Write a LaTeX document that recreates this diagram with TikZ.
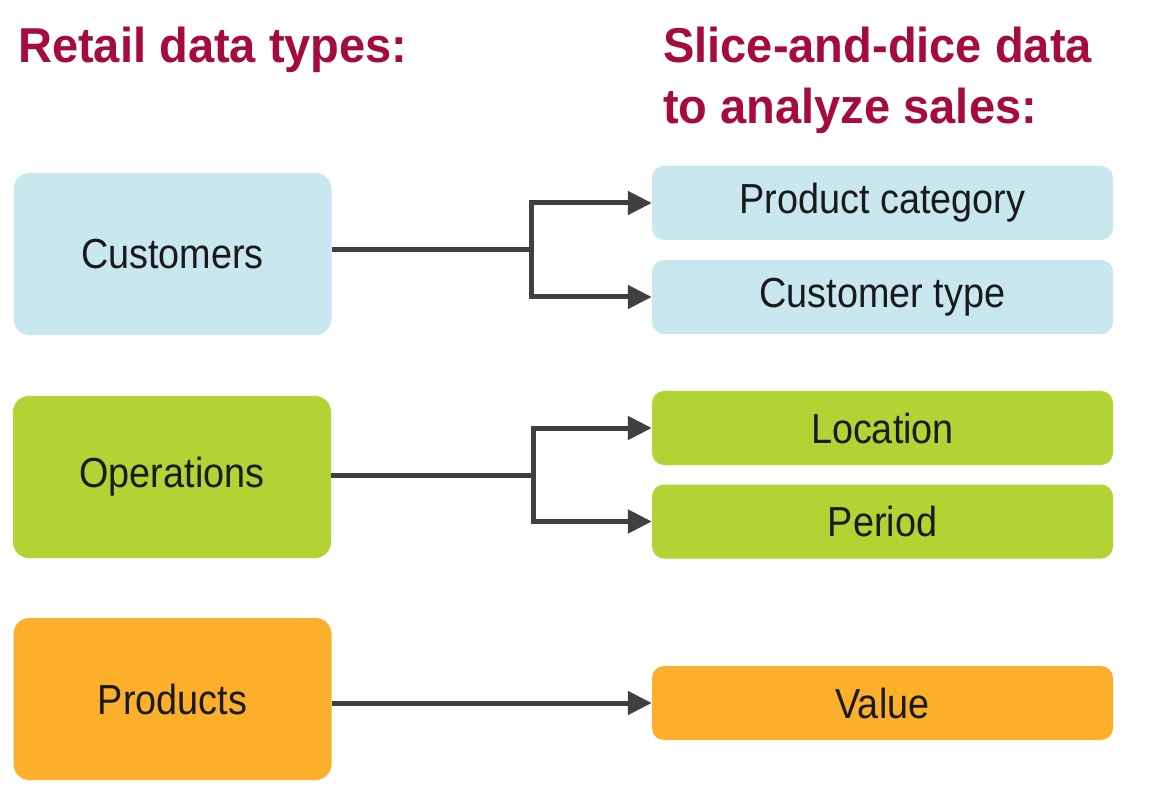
\documentclass[tikz,border=0pt]{standalone}
\usepackage{fontspec}
\usetikzlibrary{arrows.meta}
\newfontfamily\headfont[FakeStretch=0.96]{Liberation Sans}
\newfontfamily\boxfont[FakeStretch=0.9]{Liberation Sans}
\definecolor{headred}{HTML}{A50B3E}
\definecolor{custblue}{HTML}{C9E7EF}
\definecolor{opgreen}{HTML}{B3D334}
\definecolor{prodorange}{HTML}{FCAF2A}
\definecolor{linegray}{HTML}{404042}
\definecolor{textdark}{HTML}{1A1A1A}
\begin{document}
\begin{tikzpicture}[x=1pt,y=-1pt,
  heading/.style={anchor=base west, inner sep=0pt, text=headred,
    font=\headfont\bfseries\fontsize{49}{62}\selectfont},
  srcbox/.style={rounded corners=16pt, minimum width=318pt, minimum height=162pt,
    inner sep=0pt, text=textdark, font=\boxfont\fontsize{42}{50}\selectfont},
  dimbox/.style={rounded corners=12pt, minimum width=461pt, minimum height=74pt,
    inner sep=0pt, text=textdark, font=\boxfont\fontsize{42}{50}\selectfont},
  link/.style={draw=linegray, line width=5pt},
  arrowlink/.style={link, -{Triangle[length=24pt,width=23pt]}}]

\useasboundingbox (0,0) rectangle (1152,802);

% headings
\node[heading] (h1)  at (18,63)   {Retail data types:};
\node[heading] (h2a) at (663,63)  {Slice-and-dice data};
\node[heading] (h2b) at (663,124) {to analyze sales:};

% data types
\node[srcbox, fill=custblue]   (cust) at (172.5,254) {\raisebox{-2pt}{Customers}};
\node[srcbox, fill=opgreen]    (oper) at (172,477)   {\raisebox{-2pt}{Operations}};
\node[srcbox, fill=prodorange] (prod) at (172.5,699) {\raisebox{-2pt}{Products}};

% slice-and-dice dimensions
\node[dimbox, fill=custblue]   (pcat)  at (882.5,203)   {Product category};
\node[dimbox, fill=custblue]   (ctype) at (882.5,297)   {Customer type};
\node[dimbox, fill=opgreen]    (loc)   at (882.5,428)   {Location};
\node[dimbox, fill=opgreen]    (per)   at (882.5,521.5) {Period};
\node[dimbox, fill=prodorange] (val)   at (882.5,703)   {Value};

% branching connectors
\coordinate (j1) at (531,250);
\coordinate (j2) at (533,475);

\draw[link] (cust.east |- j1) -- (j1);
\draw[arrowlink] (j1) |- (pcat.west);
\draw[arrowlink] (j1) |- (ctype.west);

\draw[link] (oper.east |- j2) -- (j2);
\draw[arrowlink] (j2) |- (loc.west);
\draw[arrowlink] (j2) |- (per.west);

\draw[arrowlink] (prod.east |- val.west) -- (val.west);
\end{tikzpicture}
\end{document}
